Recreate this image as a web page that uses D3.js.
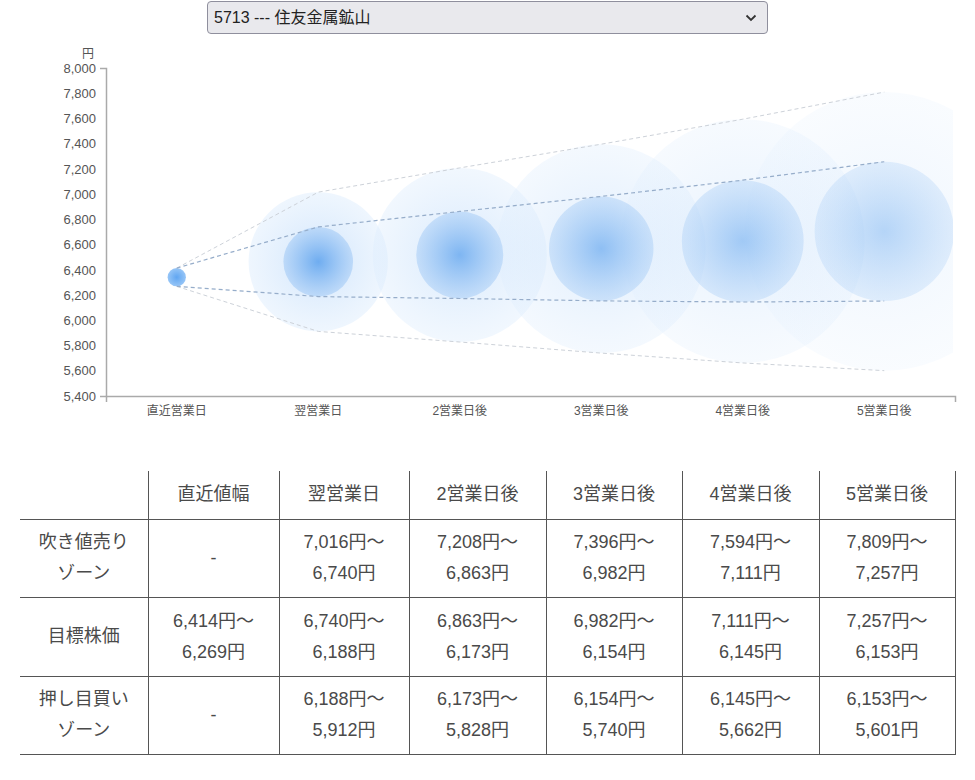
<!DOCTYPE html>
<html>
<head>
<meta charset="utf-8">
<script src="https://cdn.jsdelivr.net/npm/d3@7"></script>
<style>
  body { margin: 0; background: #fff; font-family: Arial, "Liberation Sans", "Noto Sans CJK JP", sans-serif; }
  #wrap { position: relative; width: 975px; height: 780px; }
  #stock {
    position: absolute; left: 207px; top: 1px; width: 561px; height: 33px;
    -webkit-appearance: none; appearance: none;
    background: #e9e9ed url("data:image/svg+xml;utf8,<svg xmlns='http://www.w3.org/2000/svg' width='12' height='8'><path d='M1.5 1.5 L6 6 L10.5 1.5' fill='none' stroke='%23333' stroke-width='1.8'/></svg>") no-repeat right 10px center;
    border: 1px solid #8f8f9d; border-radius: 4px;
    font-size: 16px; color: #222; padding: 0 0 0 6px;
    font-family: Arial, "Liberation Sans", "Noto Sans CJK JP", sans-serif;
  }
  #chart { position: absolute; left: 0; top: 0; }
  #tbl { position: absolute; left: 20px; top: 471px; border-collapse: collapse; table-layout: fixed; }
  #tbl td, #tbl th {
    font-weight: normal; text-align: center; color: #4a4a4a; font-size: 18px; line-height: 31px;
    border-bottom: 1px solid #555; border-left: 1px solid #555; padding: 0;
  }
  #tbl th:first-child, #tbl td:first-child { border-left: none; }
  #tbl th:last-child, #tbl td:last-child { border-right: 1px solid #555; }
</style>
</head>
<body>
<div id="wrap">
  <svg id="chart" width="975" height="440"></svg>
  <select id="stock"><option>5713 --- 住友金属鉱山</option></select>
  <table id="tbl"></table>
</div>
<script>
const categories = ['直近営業日', '翌営業日', '2営業日後', '3営業日後', '4営業日後', '5営業日後'];
const sellHigh = [null, 7016, 7208, 7396, 7594, 7809];
const targetHigh = [6414, 6740, 6863, 6982, 7111, 7257];
const targetLow = [6269, 6188, 6173, 6154, 6145, 6153];
const buyLow = [null, 5912, 5828, 5740, 5662, 5601];
const yTicks = [5400, 5600, 5800, 6000, 6200, 6400, 6600, 6800, 7000, 7200, 7400, 7600, 7800, 8000];

const tableHead = ['', '直近値幅', '翌営業日', '2営業日後', '3営業日後', '4営業日後', '5営業日後'];
const rowLabels = [['吹き値売り', 'ゾーン'], ['目標株価'], ['押し目買い', 'ゾーン']];

const plotLeft = 106, plotRight = 955, plotTop = 68, plotBottom = 396;
const svg = d3.select('#chart');

const x = d3.scaleBand().domain(categories).range([plotLeft, plotRight]);
const y = d3.scaleLinear().domain([5400, 8000]).range([plotBottom, plotTop]);
const fmt = d3.format(',');

// グラデーション
const defs = svg.append('defs');
const inner = defs.append('radialGradient').attr('id', 'gInner');
inner.append('stop').attr('offset', '0%').attr('stop-color', '#5ea3ee').attr('stop-opacity', 0.95);
inner.append('stop').attr('offset', '100%').attr('stop-color', '#a8cdf6').attr('stop-opacity', 0.7);
const outer = defs.append('radialGradient').attr('id', 'gOuter');
outer.append('stop').attr('offset', '0%').attr('stop-color', '#c2ddfb').attr('stop-opacity', 0.75);
outer.append('stop').attr('offset', '100%').attr('stop-color', '#deedfd').attr('stop-opacity', 0.5);
const latest = defs.append('radialGradient').attr('id', 'gLatest');
latest.append('stop').attr('offset', '0%').attr('stop-color', '#4f9cf0');
latest.append('stop').attr('offset', '100%').attr('stop-color', '#8bbff6');

defs.append('clipPath').attr('id', 'plotClip')
  .append('rect').attr('x', plotLeft).attr('y', plotTop)
  .attr('width', plotRight - plotLeft - 2).attr('height', plotBottom - plotTop);

const cx = i => x(categories[i]) + x.bandwidth() / 2;
const days = d3.range(1, categories.length);

const plot = svg.append('g').attr('clip-path', 'url(#plotClip)');

// 外側の円 (売り〜買いの範囲)
plot.selectAll('circle.outer')
  .data(days)
  .enter()
  .append('circle')
  .attr('class', 'outer')
  .attr('cx', i => cx(i))
  .attr('cy', i => y((sellHigh[i] + buyLow[i]) / 2))
  .attr('r', i => (y(buyLow[i]) - y(sellHigh[i])) / 2)
  .attr('fill', 'url(#gOuter)')
  .attr('opacity', i => 1 - (i - 1) * 0.16);

// 内側の円 (目標株価)
plot.selectAll('circle.inner')
  .data(days)
  .enter()
  .append('circle')
  .attr('class', 'inner')
  .attr('cx', i => cx(i))
  .attr('cy', i => y((targetHigh[i] + targetLow[i]) / 2))
  .attr('r', i => (y(targetLow[i]) - y(targetHigh[i])) / 2)
  .attr('fill', 'url(#gInner)')
  .attr('opacity', i => 0.9 - (i - 1) * 0.12);

plot.append('circle')
  .attr('cx', cx(0))
  .attr('cy', y((targetHigh[0] + targetLow[0]) / 2))
  .attr('r', (y(targetLow[0]) - y(targetHigh[0])) / 2)
  .attr('fill', 'url(#gLatest)')
  .attr('opacity', 0.9);

// 破線
const line = d3.line().x((d, i) => cx(i)).y(d => y(d));
const outerHigh = sellHigh.map((d, i) => d == null ? targetHigh[i] : d);
const outerLow = buyLow.map((d, i) => d == null ? targetLow[i] : d);
[outerHigh, outerLow].forEach(s => {
  svg.append('path').attr('d', line(s)).attr('fill', 'none')
    .attr('stroke', '#cdd2d9').attr('stroke-width', 1).attr('stroke-dasharray', '4,3');
});
[targetHigh, targetLow].forEach(s => {
  svg.append('path').attr('d', line(s)).attr('fill', 'none')
    .attr('stroke', '#96adca').attr('stroke-width', 1.2).attr('stroke-dasharray', '4,3');
});

// 軸
const yAxis = svg.append('g')
  .attr('transform', `translate(${plotLeft},0)`)
  .call(d3.axisLeft(y).tickValues(yTicks).tickSizeInner(0).tickSizeOuter(6).tickPadding(10).tickFormat(fmt));
const xAxis = svg.append('g')
  .attr('transform', `translate(0,${plotBottom})`)
  .call(d3.axisBottom(x).tickSizeInner(0).tickSizeOuter(6).tickPadding(10));
[yAxis, xAxis].forEach(g => {
  g.select('.domain').attr('stroke', '#aaa').attr('stroke-width', 1.5);
  g.selectAll('text').attr('fill', '#555').style('font-size', '13px')
    .style('font-family', 'Arial, "Liberation Sans", "Noto Sans CJK JP", sans-serif');
});
xAxis.selectAll('text').style('font-size', '12px');

svg.append('text')
  .attr('x', 88).attr('y', 58)
  .attr('text-anchor', 'middle')
  .attr('fill', '#555')
  .style('font-size', '12px')
  .text('円');

// 表
const tbl = d3.select('#tbl');
const colW = [128, 131, 130, 137, 136, 137, 136];
tbl.append('colgroup').selectAll('col').data(colW).enter().append('col').style('width', d => d + 'px');

tbl.append('tr').style('height', '48px')
  .selectAll('th').data(tableHead).enter().append('th').text(d => d);

const rangeCell = (a, b) => (a == null || b == null) ? ['-'] : [fmt(a) + '円～', fmt(b) + '円'];
const rows = [
  { label: rowLabels[0], cells: categories.map((c, i) => rangeCell(sellHigh[i], targetHigh[i])), h: 78 },
  { label: rowLabels[1], cells: categories.map((c, i) => rangeCell(targetHigh[i], targetLow[i])), h: 79 },
  { label: rowLabels[2], cells: categories.map((c, i) => rangeCell(buyLow[i] == null ? null : targetLow[i], buyLow[i])), h: 78 }
];

const tr = tbl.selectAll('tr.row').data(rows).enter().append('tr').attr('class', 'row')
  .style('height', d => d.h + 'px');
tr.selectAll('td')
  .data(d => [d.label].concat(d.cells))
  .enter()
  .append('td')
  .html(d => d.join('<br>'));
</script>
</body>
</html>
